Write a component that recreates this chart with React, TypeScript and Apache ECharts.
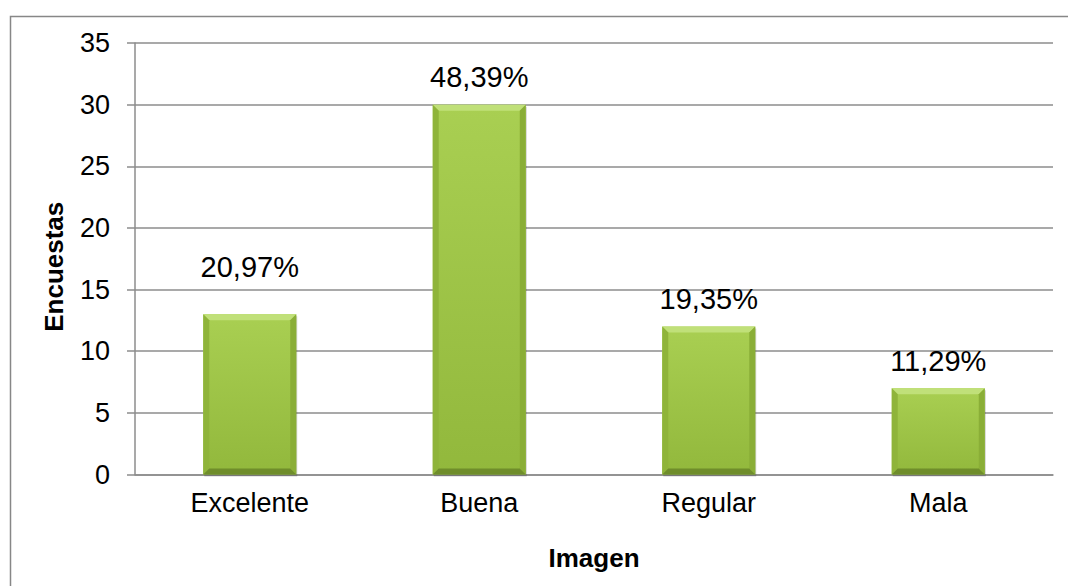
import React, { useEffect, useRef } from "react";
import * as echarts from "echarts";

const categories = ["Excelente", "Buena", "Regular", "Mala"];
const values = [13, 30, 12, 7];
const percentLabels = ["20,97%", "48,39%", "19,35%", "11,29%"];
const labelDistances = [33, 13, 13, 13];
const yTicks = { min: 0, max: 35, interval: 5 };

const FONT = "Arial, 'Liberation Sans', Helvetica, sans-serif";
const BAR_W = 93;
const BEVEL = 6;

export default function App() {
  const ref = useRef<HTMLDivElement>(null);
  useEffect(() => {
    if (!ref.current) return;
    const chart = echarts.init(ref.current, undefined, { renderer: "svg" });

    const renderBar = (params: any, api: any) => {
      const idx = api.value(0);
      const val = api.value(1);
      const top = api.coord([idx, val]);
      const base = api.coord([idx, 0]);
      const x0 = top[0] - BAR_W / 2;
      const x1 = top[0] + BAR_W / 2;
      const y0 = top[1];
      const y1 = base[1];
      const b = BEVEL;
      return {
        type: "group",
        children: [
          {
            type: "rect",
            shape: { x: x0 + 1, y: y0 + 2, width: BAR_W, height: y1 - y0 },
            style: { fill: "rgba(0,0,0,0.18)" },
          },
          {
            type: "rect",
            shape: { x: x0, y: y0, width: BAR_W, height: y1 - y0 },
            style: {
              fill: new echarts.graphic.LinearGradient(0, 0, 0, 1, [
                { offset: 0, color: "#a9cf52" },
                { offset: 1, color: "#92b83c" },
              ]),
            },
          },
          {
            type: "polygon",
            shape: { points: [[x0, y0], [x1, y0], [x1 - b, y0 + b], [x0 + b, y0 + b]] },
            style: { fill: "#c0e079" },
          },
          {
            type: "polygon",
            shape: { points: [[x0, y0], [x0 + b, y0 + b], [x0 + b, y1 - b], [x0, y1]] },
            style: { fill: "#8fb43a" },
          },
          {
            type: "polygon",
            shape: { points: [[x1, y0], [x1, y1], [x1 - b, y1 - b], [x1 - b, y0 + b]] },
            style: { fill: "#8aae37" },
          },
          {
            type: "polygon",
            shape: { points: [[x0, y1], [x0 + b, y1 - b], [x1 - b, y1 - b], [x1, y1]] },
            style: { fill: "#6f8d2b" },
          },
        ],
      };
    };

    chart.setOption({
      animation: false,
      backgroundColor: "#ffffff",
      textStyle: { fontFamily: FONT },
      graphic: [
        {
          type: "rect",
          left: 8,
          top: 14,
          shape: { width: 1200, height: 700 },
          style: { fill: "none", stroke: "#878787", lineWidth: 1.5 },
          silent: true,
          z: -1,
        },
      ],
      grid: { left: 135, right: 15, top: 43, bottom: 111.5, containLabel: false },
      xAxis: {
        type: "category",
        data: categories,
        name: "Imagen",
        nameLocation: "middle",
        nameGap: 70,
        nameTextStyle: { fontSize: 26, fontWeight: "bold", color: "#000", fontFamily: FONT },
        axisLine: { show: true, lineStyle: { color: "#8c8c8c", width: 1.5 } },
        axisTick: { show: false },
        axisLabel: { fontSize: 27, color: "#000", margin: 15, fontFamily: FONT },
      },
      yAxis: {
        type: "value",
        min: yTicks.min,
        max: yTicks.max,
        interval: yTicks.interval,
        name: "Encuestas",
        nameLocation: "middle",
        nameGap: 68,
        nameRotate: 90,
        nameTextStyle: {
          fontSize: 26,
          fontWeight: "bold",
          color: "#000",
          fontFamily: FONT,
          padding: [0, 16, 0, 0],
        },
        axisLine: { show: true, lineStyle: { color: "#8c8c8c", width: 1.5 } },
        axisTick: { show: true, inside: false, length: 8, lineStyle: { color: "#8c8c8c", width: 1.5 } },
        axisLabel: { fontSize: 27, color: "#000", margin: 25, fontFamily: FONT },
        splitLine: { show: true, lineStyle: { color: "#8c8c8c", width: 1.5 } },
      },
      series: [
        {
          type: "custom",
          renderItem: renderBar,
          data: values.map((v, i) => [i, v]),
          encode: { x: 0, y: 1 },
          z: 3,
        },
        {
          type: "bar",
          barWidth: BAR_W,
          data: values.map((v, i) => ({
            value: v,
            label: { distance: labelDistances[i] },
          })),
          itemStyle: { color: "rgba(0,0,0,0)" },
          z: 4,
          label: {
            show: true,
            position: "top",
            fontSize: 29,
            color: "#000",
            fontFamily: FONT,
            formatter: (p: any) => percentLabels[p.dataIndex],
          },
        },
      ],
    });
    return () => chart.dispose();
  }, []);
  return (
    <div
      ref={ref}
      style={{ position: "fixed", left: 0, top: 0, width: 1068, height: 586 }}
    />
  );
}
